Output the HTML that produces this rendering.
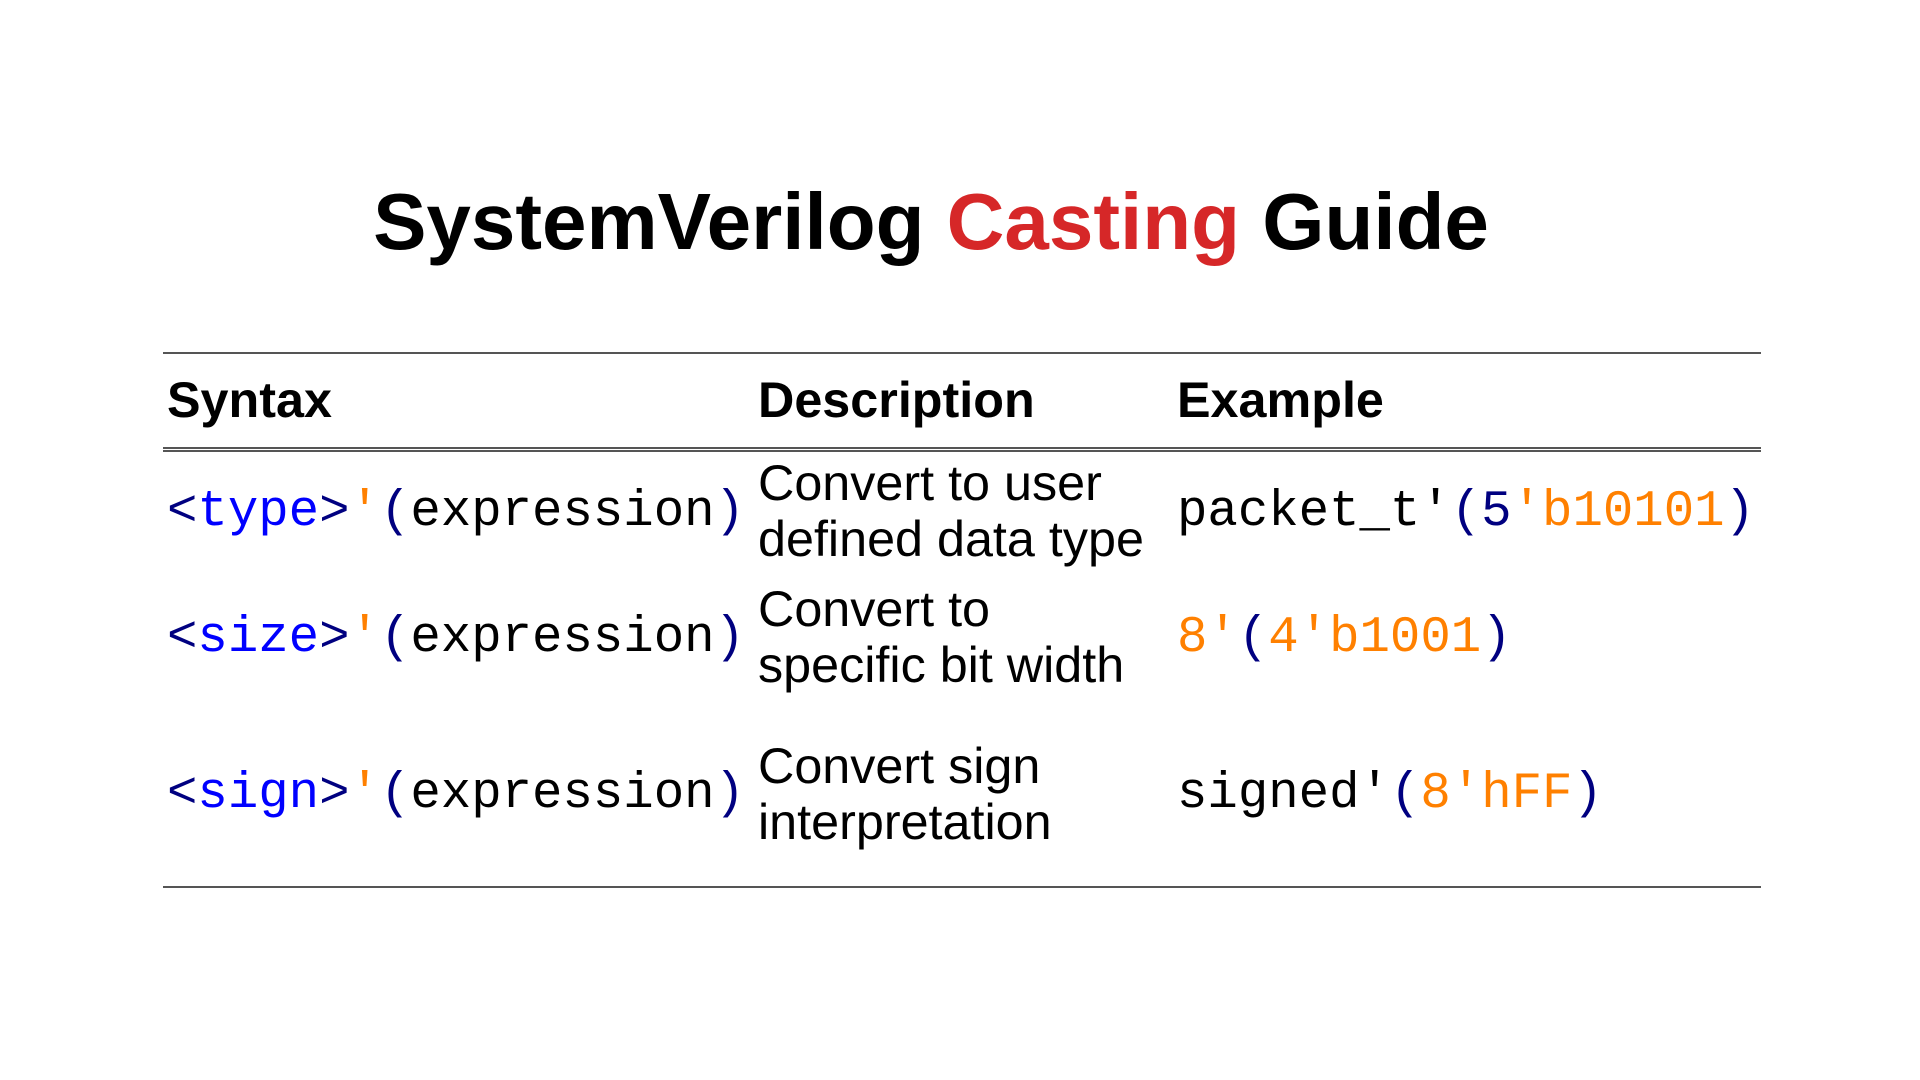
<!DOCTYPE html>
<html><head><meta charset="utf-8"><style>
html,body{margin:0;padding:0;background:#fff;width:1920px;height:1080px;overflow:hidden;position:relative}
.a{position:absolute;white-space:nowrap}
.s{font-family:"Liberation Sans",sans-serif;font-size:50.3px;line-height:56px;color:#000}
.m{font-family:"Liberation Mono",monospace;font-size:50.7px;line-height:56px;color:#000}
.h{font-weight:bold}
.b{color:#0000ff}.n{color:#000080}.o{color:#ff8000}
.line{position:absolute;left:163px;width:1598px;height:2px;background:#555}
</style></head><body>
<div class="a" style="left:0;width:1862px;text-align:center;top:176px;font-family:'Liberation Sans',sans-serif;font-weight:bold;font-size:80px;line-height:92px;color:#000">SystemVerilog <span style="color:#d62728">Casting</span> Guide</div>
<div class="line" style="top:352px"></div>
<div class="line" style="top:447px;height:1.5px"></div>
<div class="line" style="top:450px;height:1.5px"></div>
<div class="line" style="top:886px"></div>
<div class="a s h" style="left:167px;top:372px">Syntax</div>
<div class="a s h" style="left:758px;top:372px">Description</div>
<div class="a s h" style="left:1177px;top:372px">Example</div>

<div class="a m" style="left:167px;top:485px"><span class="n">&lt;</span><span class="b">type</span><span class="n">&gt;</span><span class="o">'</span><span class="n">(</span>expression<span class="n">)</span></div>
<div class="a s" style="left:758px;top:455px">Convert to user<br>defined data type</div>
<div class="a m" style="left:1177px;top:485px">packet_t'<span class="n">(5</span><span class="o">'b10101</span><span class="n">)</span></div>

<div class="a m" style="left:167px;top:611px"><span class="n">&lt;</span><span class="b">size</span><span class="n">&gt;</span><span class="o">'</span><span class="n">(</span>expression<span class="n">)</span></div>
<div class="a s" style="left:758px;top:581px">Convert to<br>specific bit width</div>
<div class="a m" style="left:1177px;top:611px"><span class="o">8'</span><span class="n">(</span><span class="o">4'b1001</span><span class="n">)</span></div>

<div class="a m" style="left:167px;top:767px"><span class="n">&lt;</span><span class="b">sign</span><span class="n">&gt;</span><span class="o">'</span><span class="n">(</span>expression<span class="n">)</span></div>
<div class="a s" style="left:758px;top:738px">Convert sign<br>interpretation</div>
<div class="a m" style="left:1177px;top:767px">signed'<span class="n">(</span><span class="o">8'hFF</span><span class="n">)</span></div>
</body></html>
